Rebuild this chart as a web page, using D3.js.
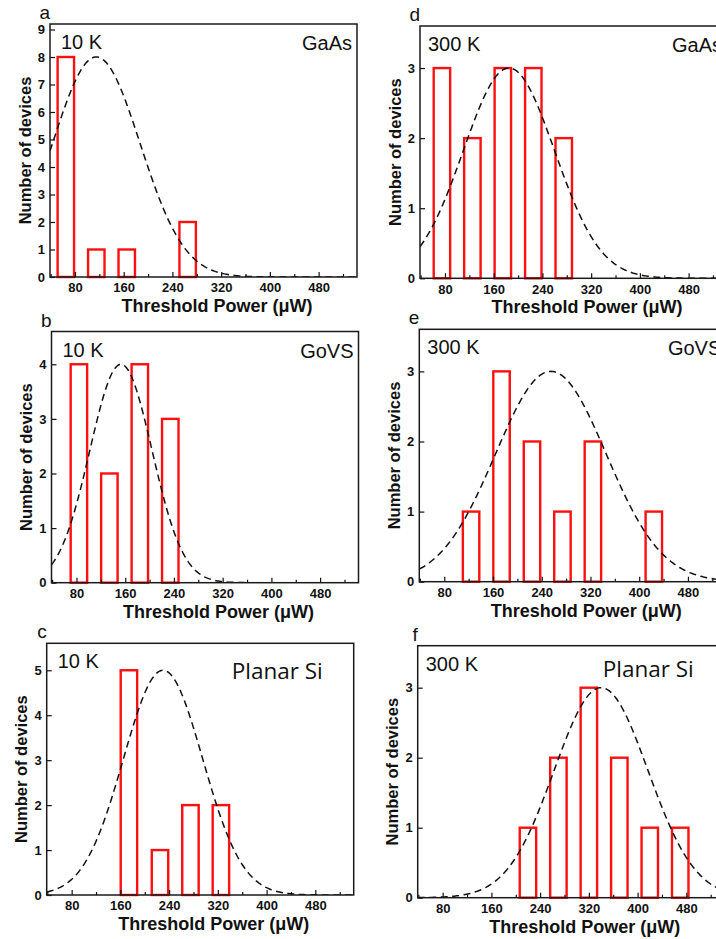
<!DOCTYPE html>
<html>
<head>
<meta charset="utf-8">
<script src="https://cdn.jsdelivr.net/npm/d3@7"></script>
<style>
  body { margin: 0; background: #fff; }
  svg { display: block; font-family: "Liberation Sans", Arial, sans-serif; }
  .tick text { font-size: 13px; font-weight: bold; fill: #111; }
  .tick line { stroke: #111; stroke-width: 1.2; }
</style>
</head>
<body>
<div id="chart"></div>
<script>
// histogram data, one entry per panel (a-f)
var panelIds = ["a", "b", "c", "d", "e", "f"];
var temps = ["10 K", "10 K", "10 K", "300 K", "300 K", "300 K"];
var materials = ["GaAs", "GoVS", "Planar Si", "GaAs", "GoVS", "Planar Si"];
var binCenters = [
    [65, 115, 165, 265],
    [84, 134, 184, 234],
    [174, 225, 275, 325],
    [75, 125, 175, 225, 275],
    [124, 174, 224, 274, 324, 424],
    [220, 270, 320, 370, 420, 470]
];
var counts = [
    [8, 1, 1, 2],
    [4, 2, 4, 3],
    [5, 1, 2, 2],
    [3, 2, 3, 3, 2],
    [1, 3, 2, 1, 2, 1],
    [1, 2, 3, 2, 1, 1]
];
var yMax = [9.2, 4.6, 5.6, 3.6, 3.6, 3.6];
var yTickMax = [9, 4, 5, 3, 3, 3];
var xTicks = [80, 160, 240, 320, 400, 480];
var xMinorTicks = [40, 120, 200, 280, 360, 440, 520];
// gaussian fit
var fitCenter = [115, 153, 230, 185, 255, 340];
var fitSigma = [72, 51, 65, 75, 91, 77];
var fitPeak = [8, 4, 5, 3, 3, 3];

var xDomain = [39, 543];
var binWidth = 27;

// frame position of each panel
var frames = [
    {left: 50, top: 24, bottom: 277},
    {left: 51.5, top: 331.5, bottom: 582.7},
    {left: 46.7, top: 643.3, bottom: 895},
    {left: 420, top: 26, bottom: 278.3},
    {left: 419.3, top: 329.3, bottom: 581.7},
    {left: 417.7, top: 645.7, bottom: 897.7}
];
var frameWidth = 307;

var svg = d3.select("#chart").append("svg")
    .attr("width", 716)
    .attr("height", 939);

panelIds.forEach(function (id, i) {
    var f = frames[i];
    var h = f.bottom - f.top;

    var x = d3.scaleLinear().domain(xDomain).range([0, frameWidth]);
    var y = d3.scaleLinear().domain([0, yMax[i]]).range([h, 0]);

    var g = svg.append("g")
        .attr("transform", "translate(" + f.left + "," + f.top + ")");

    g.append("clipPath")
        .attr("id", "clip" + id)
        .append("rect")
        .attr("width", frameWidth)
        .attr("height", h);

    // bars
    var bars = binCenters[i].map(function (c, j) {
        return {c: c, n: counts[i][j]};
    });
    g.selectAll(".bar")
        .data(bars)
        .enter().append("rect")
        .attr("class", "bar")
        .attr("x", function (d) { return x(d.c - binWidth / 2); })
        .attr("y", function (d) { return y(d.n); })
        .attr("width", function (d) { return x(d.c + binWidth / 2) - x(d.c - binWidth / 2); })
        .attr("height", function (d) { return y(0) - y(d.n); })
        .attr("fill", "none")
        .attr("stroke", "#ff1010")
        .attr("stroke-width", 2.4);

    // gaussian fit
    var pts = d3.range(xDomain[0], xDomain[1] + 1, 2).map(function (v) {
        var z = (v - fitCenter[i]) / fitSigma[i];
        return [v, fitPeak[i] * Math.exp(-0.5 * z * z)];
    });
    g.append("path")
        .datum(pts)
        .attr("clip-path", "url(#clip" + id + ")")
        .attr("fill", "none")
        .attr("stroke", "#111")
        .attr("stroke-width", 1.5)
        .attr("stroke-dasharray", "7,4.5")
        .attr("d", d3.line()
            .x(function (d) { return x(d[0]); })
            .y(function (d) { return y(d[1]); }));

    // axes, ticks pointing inward
    var xAxis = g.append("g")
        .attr("transform", "translate(0," + h + ")")
        .call(d3.axisBottom(x).tickValues(xTicks).tickSize(-5).tickPadding(6));
    xAxis.select(".domain").remove();
    var xMinor = g.append("g")
        .attr("transform", "translate(0," + h + ")")
        .call(d3.axisBottom(x).tickValues(xMinorTicks).tickSize(-3).tickFormat(""));
    xMinor.select(".domain").remove();

    var yAxis = g.append("g")
        .call(d3.axisLeft(y).tickValues(d3.range(0, yTickMax[i] + 1)).tickSize(-5).tickPadding(5)
            .tickFormat(d3.format("d")));
    yAxis.select(".domain").remove();

    // frame
    g.append("rect")
        .attr("width", frameWidth)
        .attr("height", h)
        .attr("fill", "none")
        .attr("stroke", "#1a1a1a")
        .attr("stroke-width", 1.5);

    // panel letter
    g.append("text")
        .attr("x", 0)
        .attr("y", -5)
        .attr("text-anchor", "end")
        .style("font-size", "19px")
        .attr("fill", "#111")
        .text(id);

    // temperature
    g.append("text")
        .attr("x", i < 3 ? 11 : 8)
        .attr("y", 25)
        .style("font-size", "20px")
        .attr("fill", "#111")
        .text(temps[i]);

    // material
    if (materials[i] === "Planar Si") {
        g.append("text")
            .attr("x", 185)
            .attr("y", i < 3 ? 36 : 31)
            .style("font-family", "'Open Sans', 'Noto Sans', sans-serif")
            .style("font-size", "22.5px")
            .attr("fill", "#111")
            .text(materials[i]);
    } else {
        g.append("text")
            .attr("x", 302)
            .attr("y", 26)
            .attr("text-anchor", "end")
            .style("font-size", "20px")
            .attr("fill", "#111")
            .text(materials[i]);
    }

    // axis titles
    g.append("text")
        .attr("transform", "translate(-25," + (h / 2) + ") rotate(-90)")
        .attr("dy", "0.35em")
        .attr("text-anchor", "middle")
        .style("font-size", "16.5px")
        .style("font-weight", "bold")
        .attr("fill", "#111")
        .text("Number of devices");

    g.append("text")
        .attr("x", 167)
        .attr("y", h + 35)
        .attr("text-anchor", "middle")
        .style("font-size", "18px")
        .style("font-weight", "bold")
        .attr("fill", "#111")
        .text("Threshold Power (\u03bcW)");
});
</script>
</body>
</html>
